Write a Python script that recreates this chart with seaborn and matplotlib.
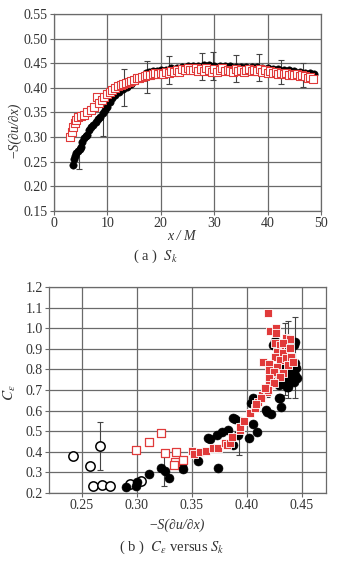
import numpy as np
import pandas as pd
import matplotlib
matplotlib.use("Agg")
import matplotlib.pyplot as plt
import seaborn as sns

# ---------------- data: panel (a) ----------------
blk_x = [3.5, 3.8, 4.0, 4.2, 4.5, 4.8, 5.0, 5.3, 5.6, 5.9, 6.2, 6.6, 7.0, 7.3, 7.8, 8.2, 8.7,
         9.1, 9.5, 10.0, 10.5, 10.9, 11.5, 12.2, 13.0, 13.7, 14.5, 15.0, 15.6, 16.5, 17.2,
         17.8, 18.5, 19.3, 20, 21, 22, 23, 24, 25, 26, 27, 28, 29, 30, 31, 32, 33, 34, 35,
         36, 37, 38, 39, 40, 41, 42, 43, 44, 45, 46, 47, 48, 48.7]
blk_s = [0.243, 0.255, 0.262, 0.268, 0.272, 0.275, 0.280, 0.290, 0.298, 0.303, 0.305, 0.314,
         0.320, 0.325, 0.331, 0.336, 0.341, 0.348, 0.355, 0.362, 0.372, 0.379, 0.386, 0.392,
         0.398, 0.402, 0.408, 0.414, 0.418, 0.425, 0.430, 0.432, 0.434, 0.435, 0.437, 0.437,
         0.440, 0.441, 0.443, 0.444, 0.445, 0.445, 0.446, 0.446, 0.445, 0.445, 0.444, 0.444,
         0.443, 0.443, 0.443, 0.442, 0.442, 0.441, 0.440, 0.439, 0.438, 0.437, 0.436, 0.434,
         0.432, 0.431, 0.430, 0.428]
red_x = [3.0, 3.3, 3.6, 3.9, 4.2, 4.5, 5.0, 5.6, 6.2, 6.9, 7.5, 8.0, 8.5, 9.0, 9.4, 10.0, 10.5,
         10.9, 11.5, 12.0, 12.5, 13.0, 13.5, 14.0, 14.4, 15.0, 15.5, 16.0, 16.5, 17.0, 17.5,
         18.0, 18.5, 19.0, 19.5, 20.0, 20.5, 21.0, 21.5, 22.0, 22.5, 23.0, 23.5, 24.0, 24.5,
         25.0, 25.5, 26.0, 26.5, 27.0, 27.5, 28.0, 28.5, 29.0, 29.5, 30.0, 30.5, 31.0, 31.5,
         32.0, 32.5, 33.0, 33.5, 34.0, 34.5, 35.0, 35.5, 36.0, 36.5, 37.0, 37.5, 38.0, 38.5,
         39.0, 39.5, 40.0, 40.5, 41.0, 41.5, 42.0, 42.5, 43.0, 43.5, 44.0, 44.5, 45.0, 45.5,
         46.0, 46.5, 47.0, 47.5, 48.0, 48.5]
red_s = [0.301, 0.310, 0.320, 0.328, 0.335, 0.340, 0.343, 0.345, 0.350, 0.355, 0.362, 0.382,
         0.370, 0.375, 0.382, 0.388, 0.392, 0.396, 0.400, 0.403, 0.406, 0.408, 0.410, 0.412,
         0.413, 0.416, 0.420, 0.421, 0.423, 0.425, 0.426, 0.427, 0.428, 0.430, 0.428, 0.431,
         0.429, 0.432, 0.430, 0.434, 0.432, 0.436, 0.433, 0.438, 0.436, 0.440, 0.437, 0.436,
         0.440, 0.434, 0.438, 0.435, 0.440, 0.436, 0.433, 0.438, 0.432, 0.436, 0.440, 0.434,
         0.437, 0.435, 0.432, 0.438, 0.434, 0.437, 0.433, 0.436, 0.439, 0.435, 0.437, 0.434,
         0.438, 0.433, 0.436, 0.431, 0.434, 0.430, 0.432, 0.429, 0.431, 0.428, 0.430, 0.427,
         0.429, 0.426, 0.428, 0.425, 0.427, 0.424, 0.420, 0.422, 0.418]
err_a_x = [4.7, 9.2, 13.1, 17.4, 21.5, 27.7, 29.8, 34.1, 38.3, 42.5, 46.7]
err_a_y = [0.255, 0.333, 0.401, 0.422, 0.436, 0.444, 0.444, 0.439, 0.441, 0.432, 0.426]
err_a_e = [0.020, 0.030, 0.037, 0.033, 0.029, 0.027, 0.028, 0.027, 0.027, 0.025, 0.025]

# ---------------- data: panel (b) ----------------
open_c_x = [0.2418, 0.2573, 0.2661, 0.2603, 0.2685, 0.2752, 0.2936, 0.3033]
open_c_y = [0.381, 0.333, 0.430, 0.235, 0.239, 0.235, 0.242, 0.260]
open_s_x = [0.2994, 0.3109, 0.3221, 0.3255, 0.3352, 0.3350, 0.3340, 0.3415]
open_s_y = [0.409, 0.449, 0.490, 0.396, 0.397, 0.352, 0.338, 0.358]
fill_c_x = [0.2903, 0.2994, 0.3003, 0.3109, 0.3215, 0.3252, 0.3291, 0.3406, 0.3418, 0.3557,
            0.3739, 0.3648, 0.3664, 0.3724, 0.3770, 0.3830, 0.3891, 0.3870, 0.3876, 0.3920,
            0.4021, 0.4088, 0.4058, 0.4042, 0.4058, 0.4170, 0.4224, 0.4179, 0.4294, 0.4315,
            0.4300, 0.4294, 0.4330, 0.4366, 0.4376, 0.4255, 0.4236, 0.4436, 0.4427, 0.4300,
            0.4320, 0.4345, 0.4370, 0.4400, 0.4420, 0.4440, 0.4460, 0.4335, 0.4360, 0.4390,
            0.4415, 0.4445, 0.4310, 0.4350, 0.4380, 0.4410, 0.4440, 0.4280, 0.4400, 0.4430]
fill_c_y = [0.228, 0.234, 0.255, 0.292, 0.323, 0.308, 0.271, 0.331, 0.315, 0.355,
            0.323, 0.466, 0.462, 0.482, 0.495, 0.506, 0.558, 0.433, 0.563, 0.482,
            0.466, 0.495, 0.534, 0.635, 0.660, 0.603, 0.583, 0.595, 0.663, 0.619,
            0.660, 0.724, 0.729, 0.716, 0.716, 0.939, 0.918, 0.934, 0.918, 0.757,
            0.770, 0.760, 0.780, 0.765, 0.790, 0.775, 0.760, 0.800, 0.810, 0.795,
            0.820, 0.805, 0.745, 0.740, 0.750, 0.745, 0.830, 0.780, 0.850, 0.740]
fill_s_x = [0.3497, 0.3518, 0.3573, 0.3627, 0.3694, 0.3739, 0.3800, 0.3815, 0.3845, 0.3861,
            0.3936, 0.3936, 0.3973, 0.4027, 0.4073, 0.4103, 0.4134, 0.4179, 0.4209, 0.4224,
            0.4194, 0.4215, 0.4261, 0.4264, 0.4148, 0.4255, 0.4300, 0.4360, 0.4391, 0.4330,
            0.4270, 0.4330, 0.4391, 0.4255, 0.4300, 0.4360, 0.4406, 0.4203, 0.4276, 0.4376,
            0.4421, 0.4197, 0.4243, 0.4330, 0.4203, 0.4300, 0.4197, 0.4243, 0.4194, 0.4164,
            0.4130, 0.4080]
fill_s_y = [0.405, 0.389, 0.400, 0.405, 0.417, 0.420, 0.441, 0.433, 0.445, 0.473,
            0.506, 0.522, 0.551, 0.587, 0.611, 0.643, 0.676, 0.692, 0.724, 0.745,
            1.075, 0.986, 0.999, 0.978, 0.834, 0.927, 0.918, 0.951, 0.946, 0.927,
            0.886, 0.878, 0.902, 0.862, 0.846, 0.854, 0.862, 0.826, 0.813, 0.821,
            0.837, 0.797, 0.789, 0.781, 0.757, 0.765, 0.724, 0.733, 0.700, 0.708,
            0.660, 0.630]
err_b_x = [0.2661, 0.3245, 0.3930, 0.4185, 0.4345, 0.4376, 0.4436]
err_b_y = [0.429, 0.320, 0.477, 0.750, 0.850, 0.848, 0.858]
err_b_e = [0.117, 0.085, 0.093, 0.085, 0.174, 0.188, 0.198]

# ---------------- style ----------------
sns.set_style("white")
plt.rcParams["font.family"] = ["Liberation Serif", "DejaVu Serif"]
plt.rcParams["mathtext.fontset"] = "stix"
TXT = "#333333"
GRID = "#6a6a6a"

fig = plt.figure(figsize=(3.40, 5.71), dpi=100)
ax1 = fig.add_axes([54 / 340, 1 - 211 / 571, 267 / 340, 197 / 571])
ax2 = fig.add_axes([49 / 340, 1 - 493 / 571, 277 / 340, 206 / 571])

RED = "#e03a3a"

# panel (a)
ax1.errorbar(err_a_x, err_a_y, yerr=err_a_e, fmt="none", ecolor="#444444",
             elinewidth=0.8, capsize=2.2, capthick=0.8, zorder=3)
sns.scatterplot(x=blk_x, y=blk_s, ax=ax1, marker="o", s=28, color="black",
                edgecolor="black", linewidth=0.4, zorder=4, legend=False)
sns.scatterplot(x=red_x, y=red_s, ax=ax1, marker="s", s=28, facecolor="white",
                edgecolor=RED, linewidth=0.8, zorder=5, legend=False)
ax1.set_xlim(0, 50)
ax1.set_ylim(0.15, 0.55)
ax1.set_xticks([0, 10, 20, 30, 40, 50])
ax1.set_yticks(np.round(np.arange(0.15, 0.5501, 0.05), 2))
ax1.set_yticklabels([f"{v:.2f}" for v in np.arange(0.15, 0.5501, 0.05)])
ax1.set_xlabel("x / M", fontstyle="italic", fontsize=10, color=TXT)
ax1.set_ylabel("−S(∂u/∂x)", fontstyle="italic", fontsize=10, color=TXT)
ax1.xaxis.set_label_coords((181 - 54) / 267, (211 - 230) / 197)
ax1.yaxis.set_label_coords((20 - 54) / 267, (211 - 130) / 197)

# panel (b)
ax2.errorbar(err_b_x, err_b_y, yerr=err_b_e, fmt="none", ecolor="#444444",
             elinewidth=0.8, capsize=2.2, capthick=0.8, zorder=3)
sns.scatterplot(x=open_c_x, y=open_c_y, ax=ax2, marker="o", s=45, facecolor="white",
                edgecolor="black", linewidth=1.1, zorder=4, legend=False)
sns.scatterplot(x=fill_c_x, y=fill_c_y, ax=ax2, marker="o", s=42, color="black",
                edgecolor="black", linewidth=0.4, zorder=4, legend=False)
sns.scatterplot(x=open_s_x, y=open_s_y, ax=ax2, marker="s", s=30, facecolor="white",
                edgecolor=RED, linewidth=0.9, zorder=5, legend=False)
sns.scatterplot(x=fill_s_x, y=fill_s_y, ax=ax2, marker="s", s=32, color=RED,
                edgecolor="white", linewidth=0.6, zorder=6, legend=False)
ax2.set_xlim(0.22, 0.472)
ax2.set_ylim(0.2, 1.2)
ax2.set_xticks([0.25, 0.30, 0.35, 0.40, 0.45])
ax2.set_xticklabels(["0.25", "0.30", "0.35", "0.40", "0.45"])
ax2.set_yticks(np.round(np.arange(0.2, 1.201, 0.1), 1))
ax2.set_yticklabels([f"{v:.1f}" for v in np.arange(0.2, 1.201, 0.1)])
ax2.set_xlabel("−S(∂u/∂x)", fontstyle="italic", fontsize=10, color=TXT)
ax2.set_ylabel(r"$C_\varepsilon$", fontsize=11, color=TXT)
ax2.xaxis.set_label_coords((177 - 49) / 277, (493 - 519) / 206)
ax2.yaxis.set_label_coords((18 - 49) / 277, (493 - 393) / 206)

for ax in (ax1, ax2):
    ax.grid(True, color=GRID, linewidth=0.9)
    ax.set_axisbelow(True)
    ax.tick_params(length=3, width=0.8, color=GRID, direction="out",
                   labelsize=10, labelcolor=TXT, pad=1.5, left=True, bottom=True)
    for sp in ax.spines.values():
        sp.set_color(GRID)
        sp.set_linewidth(0.9)

fig.text(155 / 340, 1 - 256 / 571, r"( a )  $S_k$", ha="center", va="center",
         fontsize=10.5, color=TXT)
fig.text(172 / 340, 1 - 547 / 571, r"( b )  $C_\varepsilon$ versus $S_k$", ha="center",
         va="center", fontsize=10.5, color=TXT)

fig.savefig("out.png", dpi=100)
